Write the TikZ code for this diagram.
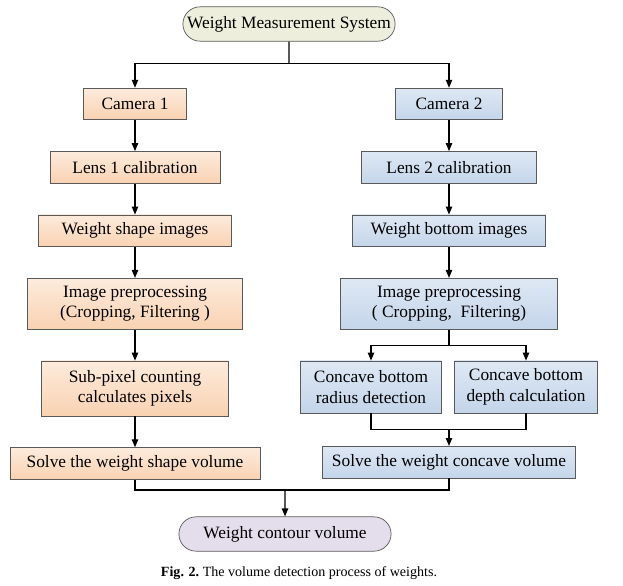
\documentclass[tikz,border=0pt]{standalone}
\usepackage{fontspec}
\setmainfont{Liberation Serif}
\usetikzlibrary{arrows.meta,positioning,shapes.misc,calc}

\definecolor{peachtop}{HTML}{FDEBDC}
\definecolor{peachbot}{HTML}{F9D2B2}
\definecolor{bluetop}{HTML}{DEE8F4}
\definecolor{bluebot}{HTML}{C4D5EA}
\definecolor{sysfill}{HTML}{EDEEDC}
\definecolor{volfill}{HTML}{E4DEEC}
\definecolor{edgegray}{HTML}{5A5A5A}

\begin{document}
\begin{tikzpicture}[
  x=0.03cm, y=-0.03cm,
  font=\fontsize{14.8}{17.5}\selectfont,
  node distance=0.93cm,
  box/.style={draw=edgegray, line width=0.6pt, minimum height=0.95cm, align=center, inner sep=2pt},
  boxA/.style={box, top color=peachtop, bottom color=peachbot},
  boxB/.style={box, top color=bluetop, bottom color=bluebot},
  pill/.style={draw=edgegray, line width=0.6pt, rounded rectangle, minimum width=6.6cm, minimum height=1.03cm},
  arrow/.style={line width=1.1pt, -{Triangle[length=2.4mm,width=1.9mm]}},
  link/.style={line width=1.1pt}
]
\useasboundingbox (0,0) rectangle (623,585);

\node[pill, fill=sysfill] (system) at (289,24) {Weight Measurement System};

% left branch: shape of the weight
\node[boxA, minimum width=3.1cm] (cam1) at (135,104) {Camera 1};
\node[boxA, minimum width=5.1cm, below=of cam1] (lens1) {Lens 1 calibration};
\node[boxA, minimum width=5.8cm, below=of lens1] (shape1) {Weight shape images};
\node[boxA, minimum width=6.45cm, minimum height=1.53cm, below=of shape1] (prep1) {Image preprocessing\\(Cropping, Filtering )};
\node[boxA, minimum width=5.6cm, minimum height=1.65cm, below=of prep1] (subpix) {Sub-pixel counting\\calculates pixels};
\node[boxA, minimum width=7.5cm, below=of subpix] (solve1) {Solve the weight shape volume};

% right branch: concave bottom
\node[boxB, minimum width=3.2cm] (cam2) at (449,104) {Camera 2};
\node[boxB, minimum width=5.25cm, below=of cam2] (lens2) {Lens 2 calibration};
\node[boxB, minimum width=5.8cm, below=of lens2] (bottom2) {Weight bottom images};
\node[boxB, minimum width=6.5cm, minimum height=1.53cm, below=of bottom2] (prep2) {Image preprocessing\\( Cropping,\ \ Filtering)};
\node[boxB, minimum width=4.23cm, minimum height=1.56cm, below=of prep2, xshift=-2.34cm] (radius) {Concave bottom\\radius detection};
\node[boxB, minimum width=4.3cm, minimum height=1.56cm, below=of prep2, xshift=2.31cm] (depth) {Concave bottom\\depth calculation};
\coordinate (split2) at ($(prep2.south)+(0,16)$);
\coordinate (merge2) at ($(radius.south -| prep2.south)+(0,16)$);
\node[boxB, minimum width=7.6cm, below=0.5cm of merge2] (solve2) {Solve the weight concave volume};

\node[pill, fill=volfill] (contour) at (285,534) {Weight contour volume};
\coordinate (fork) at ($(system.south)+(0,22)$);
\coordinate (merge) at (contour.north |- 0,490);

\node[font=\fontsize{12}{14}\selectfont] (caption) at (299,573) {\textbf{Fig. 2.}\ The volume detection process of weights.};

% connectors
\draw[link] (system) -- (fork);
\draw[arrow] (fork) -| (cam1);
\draw[arrow] (fork) -| (cam2);
\draw[arrow] (cam1) -- (lens1);
\draw[arrow] (lens1) -- (shape1);
\draw[arrow] (shape1) -- (prep1);
\draw[arrow] (prep1) -- (subpix);
\draw[arrow] (subpix) -- (solve1);
\draw[arrow] (cam2) -- (lens2);
\draw[arrow] (lens2) -- (bottom2);
\draw[arrow] (bottom2) -- (prep2);
\draw[link] (prep2) -- (split2);
\draw[arrow] (split2) -| (radius);
\draw[arrow] (split2) -| (depth);
\draw[link] (radius) |- (merge2) -| (depth);
\draw[arrow] (merge2) -- (solve2);
\draw[link] (solve1) |- (merge) -| (solve2);
\draw[arrow] (merge) -- (contour);
\end{tikzpicture}
\end{document}
